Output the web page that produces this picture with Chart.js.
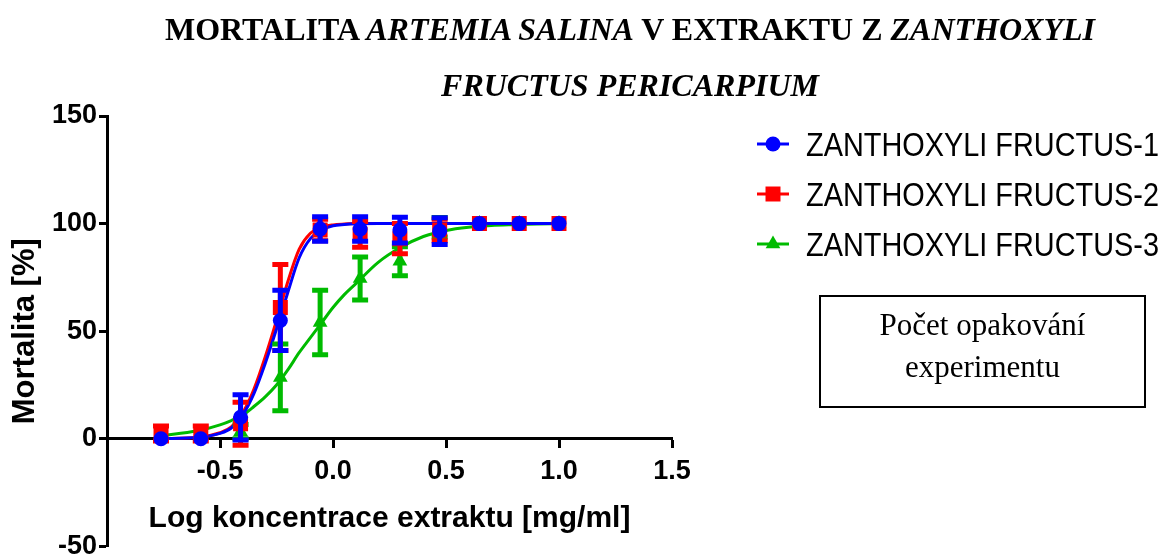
<!DOCTYPE html>
<html>
<head>
<meta charset="utf-8">
<script src="https://cdn.jsdelivr.net/npm/chart.js@4.4.1/dist/chart.umd.min.js"></script>
<style>
body{margin:0;background:#fff;}
#wrap{position:relative;width:1167px;height:557px;overflow:hidden;}
#chart{position:absolute;left:0;top:0;}
.title{position:absolute;left:0;width:1260px;text-align:center;font:bold 32px "Liberation Serif","Times New Roman",serif;line-height:40px;color:#000;white-space:nowrap;}
#note{position:absolute;left:819px;top:295px;width:327px;height:113px;box-sizing:border-box;border:2px solid #000;text-align:center;font:31px "Liberation Serif","Times New Roman",serif;line-height:42px;padding-top:7px;color:#000;}
</style>
</head>
<body>
<div id="wrap">
<canvas id="chart" width="1167" height="557"></canvas>
<div class="title" style="top:9px">MORTALITA <i>ARTEMIA SALINA</i> V EXTRAKTU Z <i>ZANTHOXYLI</i></div>
<div class="title" style="top:65px"><i>FRUCTUS PERICARPIUM</i></div>
<div id="note">Počet opakování<br>experimentu</div>
</div>
<script>
// log concentration of the extract [mg/ml]
var logConc=[-0.761,-0.585,-0.409,-0.233,-0.057,0.120,0.296,0.472,0.648,0.824,1.000];

// mean mortality [%] and error bars
var fr1Mean=[0,0,10,55,97.5,97.5,97,96.5,100,100,100];
var fr1Err=[0,0,10.5,14,5.7,5.7,6,6.2,0,0,0];
var fr2Mean=[2.5,2.5,7,61,97,95,93,97,100,100,100];
var fr2Err=[3.5,3.5,10,20,5,6,7,5,0,0,0];
var fr3Mean=[0,0,3.3,28.5,54,74.5,82.5,98.3,100,100,100];
var fr3Err=[0,0,3.3,15.5,15,10,6.7,4.5,0,0,0];

// fitted curves
var curveX=[-0.761,-0.6,-0.5,-0.45,-0.4,-0.35,-0.3,-0.25,-0.2,-0.15,-0.1,-0.05,0,0.05,0.1,0.2,0.3,0.4,0.5,0.6,0.7,0.8,0.9,1.0];
var fr1Fit=[0.1,0.6,2.5,5,11,21,35,51,68,84,93,97,99,99.6,99.9,100,100,100,100,100,100,100,100,100];
var fr2Fit=[0.1,0.6,2.8,5.5,12,23,38,55,73,88,95.5,98.3,99.4,99.8,100,100,100,100,100,100,100,100,100,100];
var fr3Fit=[1.5,3.7,6.5,8.5,11,15,19.5,25,32,40,47,54,61,67,72,82,89,94,96.8,98.3,99.1,99.5,99.8,99.9];

var seriesNames=["ZANTHOXYLI FRUCTUS-1","ZANTHOXYLI FRUCTUS-2","ZANTHOXYLI FRUCTUS-3"];
var xTicksMin=-1, xTicksMax=1.5, xStep=0.5;
var yTicksMin=-50, yTicksMax=150, yStep=50;
var xTitle="Log koncentrace extraktu [mg/ml]";
var yTitle="Mortalita [%]";

var colors=["#0000ff","#ff0000","#00bb00"];
var markers=["circle","rect","triangle"];
var radii=[7.5,10.6,8.5];
var means=[fr1Mean,fr2Mean,fr3Mean];
var errs=[fr1Err,fr2Err,fr3Err];
var fits=[fr1Fit,fr2Fit,fr3Fit];

function pts(xs,ys){
	return xs.map(function(x,i){return {x:x,y:ys[i]};});
}

var errorBarPlugin={
	id:'errorBars',
	beforeDatasetDraw:function(chart,args){
		var ds=chart.data.datasets[args.index];
		if(!ds.errors) return;
		var xs=chart.scales.x, ys=chart.scales.y, ctx=chart.ctx;
		ctx.save();
		ctx.strokeStyle=ds.backgroundColor;
		ctx.lineCap='butt';
		ds.data.forEach(function(p,i){
			var e=ds.errors[i];
			if(!e) return;
			var px=xs.getPixelForValue(p.x);
			var top=ys.getPixelForValue(p.y+e), bot=ys.getPixelForValue(p.y-e);
			ctx.lineWidth=5;
			ctx.beginPath();
			ctx.moveTo(px,top);ctx.lineTo(px,bot);
			ctx.moveTo(px-8,top);ctx.lineTo(px+8,top);
			ctx.moveTo(px-8,bot);ctx.lineTo(px+8,bot);
			ctx.stroke();
		});
		ctx.restore();
	}
};

var sideLegend={
	id:'sideLegend',
	afterDraw:function(chart){
		var ctx=chart.ctx;
		for(var i=0;i<seriesNames.length;i++){
			var y=144+i*50;
			ctx.save();
			ctx.strokeStyle=colors[i];
			ctx.lineWidth=3;
			ctx.beginPath();ctx.moveTo(757,y);ctx.lineTo(789,y);ctx.stroke();
			ctx.fillStyle=colors[i];
			Chart.helpers.drawPoint(ctx,{pointStyle:markers[i],radius:radii[i],borderWidth:0,rotation:0},773,y);
			ctx.fillStyle='#000';
			ctx.font='33px "Liberation Sans", Arial, sans-serif';
			ctx.textBaseline='alphabetic';
			ctx.translate(806,y+12);
			ctx.scale(0.875,1);
			ctx.fillText(seriesNames[i],0,0);
			ctx.restore();
		}
	}
};

var datasets=[];
for(var i=0;i<3;i++){
	datasets.push({
		label:seriesNames[i],
		data:pts(logConc,means[i]),
		errors:errs[i],
		backgroundColor:colors[i],
		borderColor:colors[i],
		pointStyle:markers[i],
		pointRadius:radii[i],
		pointBorderWidth:0,
		showLine:false,
		order:i
	});
}
for(var i=0;i<3;i++){
	datasets.push({
		type:'line',
		label:seriesNames[i]+' fit',
		data:pts(curveX,fits[i]),
		borderColor:colors[i],
		backgroundColor:colors[i],
		borderWidth:3,
		pointRadius:0,
		fill:false,
		cubicInterpolationMode:'monotone',
		order:3+i
	});
}

var axisFont='"Liberation Sans", Arial, sans-serif';

new Chart(document.getElementById('chart').getContext('2d'),{
	type:'scatter',
	data:{datasets:datasets},
	plugins:[errorBarPlugin,sideLegend],
	options:{
		responsive:false,
		animation:false,
		events:[],
		layout:{padding:{left:0,top:116,right:495,bottom:8}},
		plugins:{legend:{display:false},tooltip:{enabled:false},title:{display:false}},
		scales:{
			x:{
				type:'linear',
				min:xTicksMin,max:xTicksMax,
				position:{y:0},
				border:{display:true,color:'#000',width:3},
				grid:{display:true,drawOnChartArea:false,drawTicks:true,tickLength:8,tickWidth:3,tickColor:'#000'},
				ticks:{stepSize:xStep,autoSkip:false,maxRotation:0,padding:9,color:'#000',
					font:{family:axisFont,size:27,weight:'bold'},
					callback:function(v){return v<=xTicksMin?'':v.toFixed(1);}},
				title:{display:true,text:xTitle,color:'#000',padding:{top:4,bottom:0},
					font:{family:axisFont,size:30,weight:'bold'}}
			},
			y:{
				type:'linear',
				min:yTicksMin,max:yTicksMax,
				border:{display:true,color:'#000',width:3},
				grid:{display:true,drawOnChartArea:false,drawTicks:true,tickLength:8,tickWidth:3,tickColor:'#000'},
				ticks:{stepSize:yStep,padding:2,color:'#000',
					font:{family:axisFont,size:27,weight:'bold'}},
				title:{display:true,text:yTitle,color:'#000',padding:{top:7,bottom:0},
					font:{family:axisFont,size:31,weight:'bold'}},
				afterFit:function(s){s.width=107;s.paddingTop=0;s.paddingBottom=0;}
			}
		}
	}
});
</script>
</body>
</html>
